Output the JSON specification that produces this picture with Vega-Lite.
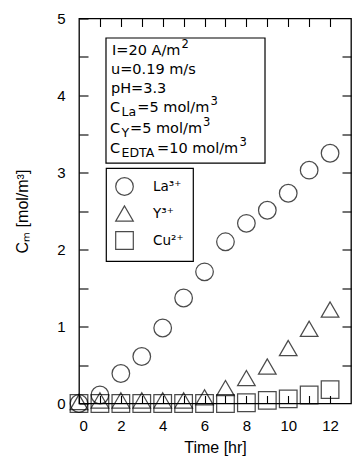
{
  "$schema": "https://vega.github.io/schema/vega-lite/v6.json",
  "width": 272,
  "height": 385,
  "autosize": "none",
  "padding": {"left": 79, "top": 18.5, "right": 3, "bottom": 56.5},
  "background": "white",
  "config": {
    "view": {"stroke": "black", "strokeWidth": 1.3},
    "axis": {
      "domain": false,
      "grid": false,
      "tickColor": "black",
      "tickWidth": 1.1,
      "labelColor": "black",
      "titleColor": "black",
      "labelFont": "Liberation Sans",
      "labelFontSize": 15,
      "titleFont": "Liberation Sans",
      "titleFontSize": 16,
      "titleFontWeight": "normal"
    },
    "legend": {
      "strokeColor": "black",
      "strokeWidth": 1.2,
      "padding": 9,
      "symbolSize": 310,
      "symbolStrokeWidth": 1.2,
      "symbolStrokeColor": "black",
      "symbolFillColor": "transparent",
      "labelFont": "DejaVu Sans",
      "labelFontSize": 13.5,
      "labelColor": "black",
      "labelOffset": 19,
      "rowPadding": 5
    }
  },
  "datasets": {
    "points": [
      {"t": 0, "ion": "La³⁺", "c": 0.0},
      {"t": 1, "ion": "La³⁺", "c": 0.11},
      {"t": 2, "ion": "La³⁺", "c": 0.39},
      {"t": 3, "ion": "La³⁺", "c": 0.61},
      {"t": 4, "ion": "La³⁺", "c": 0.98},
      {"t": 5, "ion": "La³⁺", "c": 1.37},
      {"t": 6, "ion": "La³⁺", "c": 1.71},
      {"t": 7, "ion": "La³⁺", "c": 2.10},
      {"t": 8, "ion": "La³⁺", "c": 2.34},
      {"t": 9, "ion": "La³⁺", "c": 2.51},
      {"t": 10, "ion": "La³⁺", "c": 2.73},
      {"t": 11, "ion": "La³⁺", "c": 3.03},
      {"t": 12, "ion": "La³⁺", "c": 3.25},
      {"t": 0, "ion": "Y³⁺", "c": 0.02},
      {"t": 1, "ion": "Y³⁺", "c": 0.04},
      {"t": 2, "ion": "Y³⁺", "c": 0.04},
      {"t": 3, "ion": "Y³⁺", "c": 0.04},
      {"t": 4, "ion": "Y³⁺", "c": 0.04},
      {"t": 5, "ion": "Y³⁺", "c": 0.04},
      {"t": 6, "ion": "Y³⁺", "c": 0.08},
      {"t": 7, "ion": "Y³⁺", "c": 0.20},
      {"t": 8, "ion": "Y³⁺", "c": 0.33},
      {"t": 9, "ion": "Y³⁺", "c": 0.48},
      {"t": 10, "ion": "Y³⁺", "c": 0.72},
      {"t": 11, "ion": "Y³⁺", "c": 0.97},
      {"t": 12, "ion": "Y³⁺", "c": 1.22},
      {"t": 0, "ion": "Cu²⁺", "c": 0.0},
      {"t": 1, "ion": "Cu²⁺", "c": 0.0},
      {"t": 2, "ion": "Cu²⁺", "c": 0.0},
      {"t": 3, "ion": "Cu²⁺", "c": 0.0},
      {"t": 4, "ion": "Cu²⁺", "c": 0.0},
      {"t": 5, "ion": "Cu²⁺", "c": 0.0},
      {"t": 6, "ion": "Cu²⁺", "c": 0.0},
      {"t": 7, "ion": "Cu²⁺", "c": 0.0},
      {"t": 8, "ion": "Cu²⁺", "c": 0.01},
      {"t": 9, "ion": "Cu²⁺", "c": 0.04},
      {"t": 10, "ion": "Cu²⁺", "c": 0.06},
      {"t": 11, "ion": "Cu²⁺", "c": 0.11},
      {"t": 12, "ion": "Cu²⁺", "c": 0.18}
    ],
    "boxes": [
      {"x1": 1.29, "x2": 8.89, "y1": 3.123, "y2": 4.747}
    ],
    "notes": [
      {"part": "main", "tx": 1.577, "ty": 4.584, "label": "I=20 A/m"},
      {"part": "sup", "tx": 4.9, "ty": 4.584, "label": "2"},
      {"part": "main", "tx": 1.53, "ty": 4.325, "label": "u=0.19 m/s"},
      {"part": "main", "tx": 1.53, "ty": 4.085, "label": "pH=3.3"},
      {"part": "main", "tx": 1.482, "ty": 3.844, "label": "C"},
      {"part": "sub", "tx": 2.032, "ty": 3.844, "label": "La"},
      {"part": "main", "tx": 2.787, "ty": 3.844, "label": "=5 mol/m"},
      {"part": "sup", "tx": 6.286, "ty": 3.844, "label": "3"},
      {"part": "main", "tx": 1.482, "ty": 3.571, "label": "C"},
      {"part": "sub", "tx": 2.032, "ty": 3.571, "label": "Y"},
      {"part": "main", "tx": 2.438, "ty": 3.571, "label": "=5 mol/m"},
      {"part": "sup", "tx": 5.927, "ty": 3.571, "label": "3"},
      {"part": "main", "tx": 1.482, "ty": 3.299, "label": "C"},
      {"part": "sub", "tx": 2.032, "ty": 3.299, "label": "EDTA"},
      {"part": "main", "tx": 3.728, "ty": 3.299, "label": "=10 mol/m"},
      {"part": "sup", "tx": 7.672, "ty": 3.299, "label": "3"}
    ]
  },
  "layer": [
    {
      "data": {"name": "boxes"},
      "mark": {"type": "rect", "fill": null, "fillOpacity": 0, "stroke": "black", "strokeWidth": 1.2},
      "encoding": {
        "x": {
          "field": "x1", "type": "quantitative",
          "scale": {"domain": [0, 13], "nice": false, "zero": false},
          "axis": {
            "orient": "bottom",
            "values": [0, 1, 2, 3, 4, 5, 6, 7, 8, 9, 10, 11, 12],
            "labelExpr": "datum.value % 2 == 0 ? format(datum.value, 'd') : ''",
            "tickSize": -8,
            "labelPadding": 23,
            "title": "Time [hr]",
            "titlePadding": 6
          }
        },
        "x2": {"field": "x2"},
        "y": {
          "field": "y1", "type": "quantitative",
          "scale": {"domain": [0, 5], "nice": false, "zero": false},
          "axis": {
            "orient": "left",
            "values": [0, 0.5, 1, 1.5, 2, 2.5, 3, 3.5, 4, 4.5, 5],
            "labelExpr": "datum.value % 1 == 0 ? format(datum.value, 'd') : ''",
            "tickSize": -9,
            "labelPadding": 23,
            "title": "Cₘ [mol/m³]",
            "titlePadding": 26
          }
        },
        "y2": {"field": "y2"}
      }
    },
    {
      "data": {"name": "points"},
      "mark": {"type": "point", "filled": false, "color": "black", "strokeWidth": 1.25, "size": 310},
      "encoding": {
        "x": {
          "field": "t", "type": "quantitative",
          "axis": {"orient": "top", "values": [1, 2, 3, 4, 5, 6, 7, 8, 9, 10, 11, 12], "labels": false, "tickSize": -8, "title": null}
        },
        "y": {
          "field": "c", "type": "quantitative",
          "axis": {"orient": "right", "values": [0.5, 1, 1.5, 2, 2.5, 3, 3.5, 4, 4.5], "labels": false, "tickSize": -9, "title": null}
        },
        "shape": {
          "field": "ion", "type": "nominal",
          "scale": {"domain": ["La³⁺", "Y³⁺", "Cu²⁺"], "range": ["circle", "triangle-up", "square"]},
          "legend": {"title": null, "orient": "none", "legendX": 27, "legendY": 149.5}
        }
      }
    },
    {
      "data": {"name": "notes"},
      "transform": [{"filter": "datum.part == 'main'"}],
      "mark": {"type": "text", "align": "left", "baseline": "middle", "font": "DejaVu Sans", "fontSize": 14.5, "color": "black"},
      "encoding": {
        "x": {"field": "tx", "type": "quantitative", "axis": null},
        "y": {"field": "ty", "type": "quantitative", "axis": null},
        "text": {"field": "label"}
      }
    },
    {
      "data": {"name": "notes"},
      "transform": [{"filter": "datum.part == 'sub'"}],
      "mark": {"type": "text", "align": "left", "baseline": "middle", "font": "DejaVu Sans", "fontSize": 12.5, "dy": 4, "color": "black"},
      "encoding": {
        "x": {"field": "tx", "type": "quantitative", "axis": null},
        "y": {"field": "ty", "type": "quantitative", "axis": null},
        "text": {"field": "label"}
      }
    },
    {
      "data": {"name": "notes"},
      "transform": [{"filter": "datum.part == 'sup'"}],
      "mark": {"type": "text", "align": "left", "baseline": "middle", "font": "DejaVu Sans", "fontSize": 11.5, "dy": -6, "color": "black"},
      "encoding": {
        "x": {"field": "tx", "type": "quantitative", "axis": null},
        "y": {"field": "ty", "type": "quantitative", "axis": null},
        "text": {"field": "label"}
      }
    }
  ],
  "resolve": {"axis": {"x": "independent", "y": "independent"}}
}
